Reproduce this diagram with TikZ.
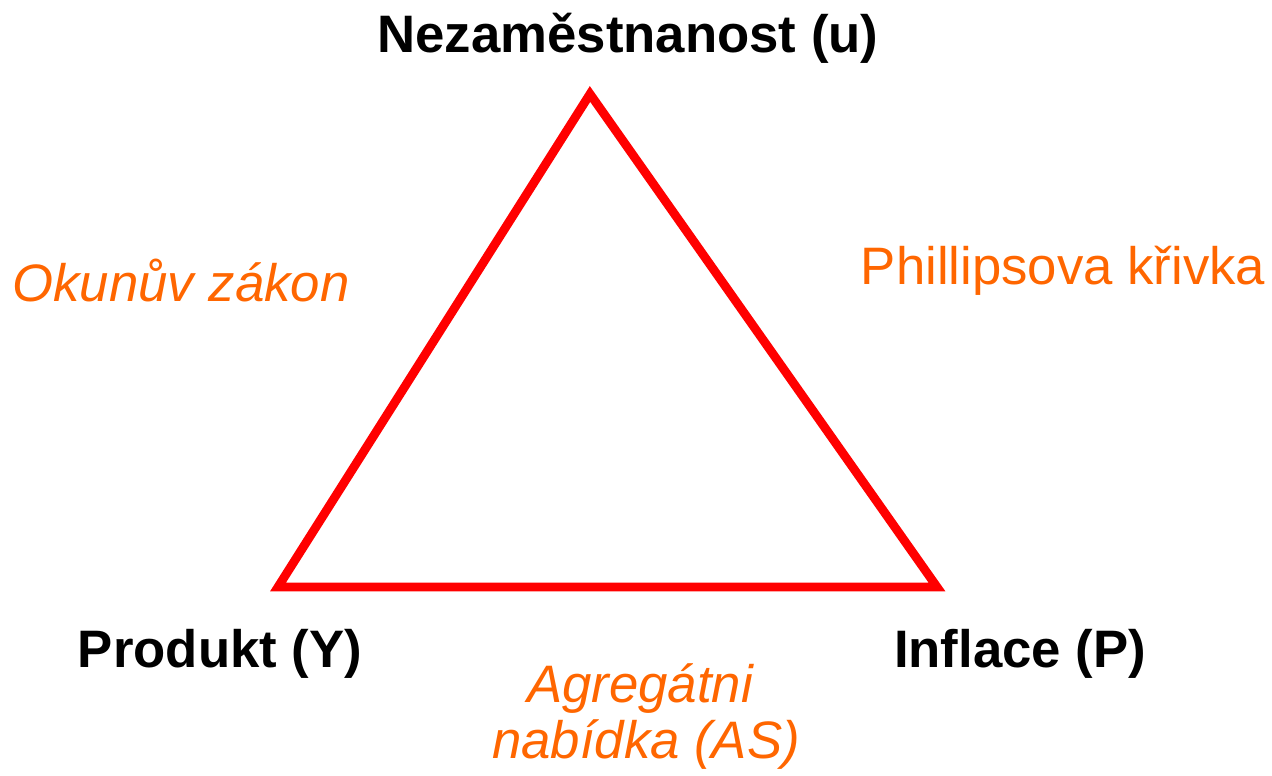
\documentclass[tikz,border=0pt]{standalone}
\usepackage{fontspec}
\setmainfont{Liberation Sans}
\definecolor{lineorange}{HTML}{FF6600}
\tikzset{
    vertexlabel/.style={anchor=base,font=\fontsize{30}{34}\selectfont\bfseries,text=black},
    lawlabel/.style={anchor=base,font=\fontsize{30}{34}\selectfont,text=lineorange}
}
\begin{document}
\begin{tikzpicture}
    \useasboundingbox (0,0) rectangle (25.44,15.5);
    % Coordinates
    \coordinate (U) at (11.8,13.62);
    \coordinate (Y) at (5.56,3.76);
    \coordinate (P) at (18.74,3.76);

    % Draw the triangle
    \draw[color=red,line width=5pt] (Y) -- (U) -- (P) -- cycle;

    % Vertex labels
    \node[vertexlabel] (ulabel) at (12.56,14.44) {Nezaměstnanost (u)};
    \node[vertexlabel] (ylabel) at (4.4,2.16) {Produkt (Y)};
    \node[vertexlabel] (plabel) at (20.4,2.16) {Inflace (P)};

    % Relations
    \node[lawlabel,font=\fontsize{30}{34}\selectfont\itshape] (okun) at (3.62,9.46) {Okunův zákon};
    \node[lawlabel] (phillips) at (21.26,9.8) {Phillipsova křivka};
    \node[lawlabel,font=\fontsize{30}{34}\selectfont\itshape] (as1) at (12.8,1.46) {Agregátni};
    \node[lawlabel,font=\fontsize{30}{34}\selectfont\itshape] (as2) at (12.92,0.34) {nabídka (AS)};
\end{tikzpicture}
\end{document}
